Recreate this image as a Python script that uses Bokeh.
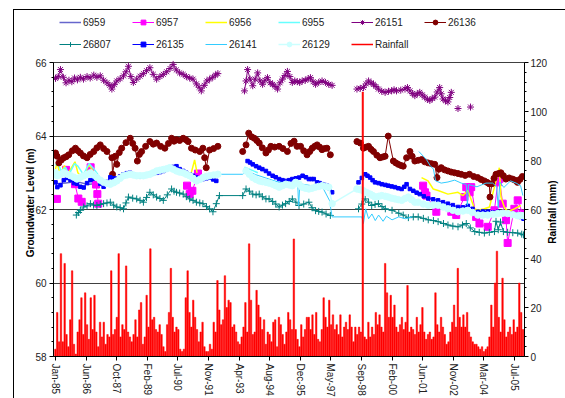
import numpy as np
from bokeh.plotting import figure
from bokeh.models import Range1d, LinearAxis, FixedTicker, Legend, LegendItem
from bokeh.embed import file_html
from bokeh.resources import INLINE

# ---------------- data ----------------
tick_labels = ["Jan-85", "Jun-86", "Oct-87", "Feb-89", "Jul-90", "Nov-91", "Apr-93", "Aug-94",
               "Dec-95", "May-97", "Sep-98", "Feb-00", "Jun-01", "Nov-02", "Mar-04", "Jul-05"]
tick_days = [0, 500, 1000, 1500, 2000, 2500, 3000, 3500, 4000, 4500, 5000, 5500, 6000, 6500, 7000, 7500]
AXIS_START = 1985.0466   # 18-Jan-1985 (decimal year), day 0 of the axis

# groundwater levels (decimal year, m); None = gap
s6959 = [(1985.05, 62.70), (1985.50, 62.72), (1986.00, 62.76), (1986.50, 62.68), (1987.00, 62.72)]

s6957 = [(1985.11, 62.29), None,
         (1985.52, 63.08), (1985.92, 62.69), (1986.07, 62.30), (1986.22, 62.21), None,
         (1986.62, 63.15), (1986.86, 62.68), (1986.92, 62.42), (1986.96, 62.16), None,
         (1990.93, 62.65), (1991.05, 62.42), (1991.17, 62.51), (1991.42, 62.98), None,
         (2001.49, 62.65), (2001.57, 62.47), (2001.64, 62.38), (2002.08, 61.94), None,
         (2002.75, 61.94), (2002.97, 61.85), (2003.34, 62.34), (2003.42, 62.61), (2003.57, 62.47),
         (2003.64, 62.61), (2003.86, 61.80), (2004.01, 61.62), (2004.38, 61.53), (2004.68, 61.98),
         (2004.83, 62.74), (2004.90, 62.83), (2005.05, 62.16), (2005.20, 61.71), (2005.27, 61.09),
         (2005.57, 62.02), (2005.72, 62.25), (2005.94, 61.89)]

s6956 = [(1985.05, 63.10), (1985.12, 63.28), (1985.25, 62.95), (1985.45, 63.20), (1985.55, 62.92),
         (1985.92, 63.30), (1986.05, 63.00), (1986.25, 62.85), (1986.55, 63.22), (1986.72, 63.05),
         (1986.85, 62.80), None,
         (1991.10, 62.95), (1991.27, 63.35), (1991.38, 63.00), None,
         (2001.42, 62.87), (2001.71, 62.78), (2001.94, 62.56), (2002.16, 62.52), (2002.60, 62.42),
         (2003.05, 62.47), (2003.27, 62.38), (2003.49, 62.52), (2003.79, 62.02), (2003.94, 61.98),
         (2004.23, 62.02), (2004.46, 62.07), (2004.60, 62.42), (2004.75, 62.78), (2004.90, 63.14),
         (2004.97, 62.34), (2005.12, 62.07), (2005.27, 61.94), (2005.57, 62.02), (2005.86, 62.11)]

s6955 = [(1985.05, 63.20), (1985.15, 63.28), (1985.30, 63.05), (1985.50, 63.15), (1985.65, 62.95),
         (1985.90, 63.25), (1986.05, 63.18), (1986.30, 62.95), (1986.55, 63.25), (1986.75, 63.12),
         (1986.95, 62.95), None,
         (1993.50, 63.15), (1993.80, 63.08), (1994.10, 63.00)]

s26151 = [(1985.05, 65.57), (1985.17, 65.62), (1985.27, 65.81), (1985.40, 65.60), (1985.52, 65.45),
          (1985.65, 65.52), (1985.78, 65.48), (1985.90, 65.58), (1986.03, 65.53), (1986.16, 65.60),
          (1986.30, 65.55), (1986.46, 65.62), (1986.60, 65.58), (1986.76, 65.66), (1986.90, 65.60),
          (1987.05, 65.64), (1987.20, 65.52), (1987.35, 65.45), (1987.48, 65.38), (1987.57, 65.28),
          (1987.68, 65.40), (1987.79, 65.50), (1987.94, 65.56), (1988.09, 65.64), (1988.20, 65.75),
          (1988.31, 65.90), (1988.42, 65.62), (1988.53, 65.46), (1988.68, 65.55), (1988.83, 65.63),
          (1988.98, 65.70), (1989.12, 65.78), (1989.27, 65.86), (1989.42, 65.68), (1989.57, 65.55),
          (1989.72, 65.62), (1989.87, 65.68), (1990.02, 65.75), (1990.17, 65.84), (1990.31, 65.95),
          (1990.45, 65.80), (1990.60, 65.72), (1990.76, 65.68), (1990.90, 65.62), (1991.05, 65.58),
          (1991.20, 65.55), (1991.35, 65.42), (1991.47, 65.33), (1991.57, 65.23), (1991.70, 65.38),
          (1991.82, 65.50), (1991.94, 65.55), (1992.08, 65.60), (1992.20, 65.66), (1992.31, 65.70), None,
          (1993.50, 65.23), (1993.57, 65.50), (1993.64, 65.81), (1993.75, 65.55), (1993.87, 65.37),
          (1993.98, 65.55), (1994.09, 65.72), (1994.20, 65.50), (1994.31, 65.41), (1994.42, 65.52),
          (1994.53, 65.59), (1994.65, 65.45), (1994.76, 65.41), (1994.87, 65.35), (1994.98, 65.28),
          (1995.09, 65.45), (1995.20, 65.55), (1995.31, 65.65), (1995.42, 65.76), (1995.53, 65.62),
          (1995.64, 65.46), (1995.75, 65.50), (1995.86, 65.48), (1995.97, 65.46), (1996.08, 65.50),
          (1996.22, 65.52), (1996.35, 65.56), (1996.45, 65.59), (1996.57, 65.48), (1996.68, 65.41),
          (1996.82, 65.46), (1996.97, 65.50), (1997.12, 65.46), (1997.27, 65.41), (1997.42, 65.38), None,
          (1998.53, 65.28), (1998.68, 65.30), (1998.82, 65.32), (1998.94, 65.42), (1999.05, 65.50),
          (1999.16, 65.45), (1999.27, 65.41), (1999.38, 65.35), (1999.49, 65.28), (1999.64, 65.22),
          (1999.79, 65.19), (1999.94, 65.22), (2000.08, 65.23), (2000.19, 65.26), (2000.30, 65.23),
          (2000.49, 65.25), (2000.68, 65.28), (2000.79, 65.32), (2000.90, 65.23), (2001.01, 65.16),
          (2001.12, 65.10), (2001.23, 65.15), (2001.34, 65.19), (2001.45, 65.12), (2001.56, 65.06),
          (2001.68, 65.00), (2001.79, 64.97), (2001.90, 65.02), (2002.01, 65.06), (2002.12, 65.20),
          (2002.23, 65.32), (2002.30, 65.15), (2002.38, 65.01), (2002.49, 64.96), (2002.60, 64.93),
          (2002.68, 65.05), (2002.75, 65.19), None,
          (2003.05, 64.75), None,
          (2003.61, 64.79)]

s26136 = [(1985.05, 63.54), (1985.12, 63.45), (1985.20, 63.27), (1985.31, 63.35), (1985.42, 63.41),
          (1985.53, 63.44), (1985.64, 63.49), (1985.80, 63.60), (1985.94, 63.67), (1986.05, 63.60),
          (1986.16, 63.54), (1986.30, 63.46), (1986.46, 63.41), (1986.60, 63.50), (1986.76, 63.58),
          (1986.90, 63.68), (1987.05, 63.76), (1987.20, 63.66), (1987.35, 63.58), (1987.57, 63.41),
          (1987.60, 62.96), (1987.72, 63.45), (1987.79, 63.23), (1987.90, 63.55), (1988.01, 63.67),
          (1988.20, 63.82), (1988.39, 63.94), (1988.50, 63.80), (1988.61, 63.67), (1988.71, 63.32),
          (1988.80, 63.50), (1988.90, 63.58), (1989.08, 63.72), (1989.27, 63.85), (1989.42, 63.78),
          (1989.57, 63.81), (1989.75, 63.72), (1989.94, 63.67), (1990.10, 63.80), (1990.24, 63.94),
          (1990.35, 63.86), (1990.46, 63.90), (1990.60, 63.88), (1990.76, 63.94), (1990.88, 63.90),
          (1990.98, 63.85), (1991.13, 63.67), (1991.30, 63.62), (1991.50, 63.58), (1991.64, 63.67),
          (1991.72, 63.41), (1991.79, 63.14), (1991.94, 63.62), (1992.12, 63.66), (1992.31, 63.72), None,
          (1993.42, 63.58), (1993.57, 63.76), (1993.69, 64.08), (1993.82, 63.98), (1993.94, 63.94),
          (1994.05, 63.88), (1994.16, 63.81), (1994.30, 63.68), (1994.46, 63.54), (1994.57, 63.62),
          (1994.68, 63.72), (1994.85, 63.70), (1995.05, 63.72), (1995.22, 63.66), (1995.42, 63.58),
          (1995.58, 63.80), (1995.72, 63.86), (1995.85, 63.72), (1996.01, 63.72), (1996.15, 63.60),
          (1996.30, 63.49), (1996.42, 63.58), (1996.53, 63.67), (1996.64, 63.72), (1996.75, 63.76),
          (1996.86, 63.70), (1996.97, 63.63), (1997.08, 63.66), (1997.19, 63.67), (1997.34, 63.49), None,
          (1998.53, 63.85), (1998.68, 63.81), (1998.82, 63.67), (1998.94, 63.70), (1999.05, 63.72),
          (1999.16, 63.64), (1999.27, 63.58), (1999.42, 63.48), (1999.56, 63.41), (1999.68, 63.43),
          (1999.79, 63.45), (1999.93, 64.00), (2000.16, 63.32), (2000.27, 63.27), (2000.38, 63.23),
          (2000.50, 63.20), (2000.60, 63.18), (2000.75, 63.41), (2000.90, 63.58), (2001.00, 63.45),
          (2001.12, 63.32), (2001.27, 63.34), (2001.42, 63.36), (2001.56, 63.30), (2001.71, 63.27),
          (2001.86, 63.25), (2002.01, 63.23), (2002.11, 62.87), (2002.20, 63.10), (2002.30, 63.14),
          (2002.45, 63.08), (2002.60, 63.05), (2002.75, 63.02), (2002.90, 63.00), (2003.05, 62.98),
          (2003.19, 62.96), (2003.37, 62.93), (2003.56, 62.96), (2003.75, 62.90), (2003.93, 62.87),
          (2004.08, 62.82), (2004.23, 62.78), (2004.35, 62.74), (2004.45, 62.70), (2004.48, 62.34),
          (2004.56, 62.70), (2004.66, 62.85), (2004.75, 62.96), (2004.86, 62.98), (2004.97, 63.00),
          (2005.08, 62.92), (2005.19, 62.83), (2005.34, 62.86), (2005.49, 62.83), (2005.60, 62.80),
          (2005.71, 62.74), (2005.82, 62.82), (2005.93, 62.90)]

s26807 = [(1985.98, 61.85), (1986.08, 61.92), (1986.16, 61.98), (1986.31, 62.07), (1986.46, 62.10),
          (1986.61, 62.16), (1986.75, 62.12), (1986.90, 62.11), (1987.05, 62.14), (1987.20, 62.16),
          (1987.35, 62.18), (1987.50, 62.20), (1987.65, 62.12), (1987.79, 62.07), (1987.94, 62.05),
          (1988.09, 62.02), (1988.20, 62.18), (1988.31, 62.34), (1988.50, 62.31), (1988.68, 62.29),
          (1988.83, 62.25), (1988.98, 62.20), (1989.12, 62.33), (1989.27, 62.47), (1989.42, 62.40),
          (1989.57, 62.34), (1989.72, 62.30), (1989.87, 62.25), (1990.05, 62.40), (1990.24, 62.56),
          (1990.35, 62.50), (1990.46, 62.47), (1990.60, 62.45), (1990.76, 62.42), (1990.90, 62.35),
          (1991.05, 62.29), (1991.20, 62.25), (1991.35, 62.20), (1991.50, 62.18), (1991.64, 62.16),
          (1991.80, 62.08), (1991.94, 62.02), (1992.09, 61.94), (1992.24, 62.16), (1992.38, 62.38),
          (1993.42, 62.38), (1993.57, 62.56), (1993.72, 62.50), (1993.87, 62.42), (1994.02, 62.40),
          (1994.16, 62.42), (1994.30, 62.35), (1994.46, 62.29), (1994.60, 62.29), (1994.76, 62.22),
          (1994.90, 62.15), (1995.05, 62.07), (1995.20, 62.12), (1995.34, 62.16), (1995.50, 62.22),
          (1995.64, 62.29), (1995.80, 62.20), (1995.94, 62.11), (1996.15, 62.15), (1996.38, 62.20),
          (1996.52, 62.05), (1996.68, 61.97), (1996.82, 61.95), (1996.97, 61.93), (1997.15, 61.88),
          (1997.34, 61.84), None,
          (1998.60, 62.02), (1998.75, 62.15), (1998.90, 62.29), (1999.05, 62.20), (1999.19, 62.11),
          (1999.34, 62.14), (1999.49, 62.16), (1999.65, 62.08), (1999.80, 62.02), (2000.10, 61.98),
          (2000.40, 61.90), (2000.60, 61.85), (2000.83, 61.78), (2001.05, 61.80), (2001.27, 61.80),
          (2001.50, 61.76), (2001.72, 61.72), (2001.95, 61.70), (2002.16, 61.67), (2002.40, 61.62),
          (2002.60, 61.58), (2002.82, 61.55), (2003.05, 61.53), (2003.25, 61.58), (2003.42, 61.62),
          (2003.60, 61.50), (2003.80, 61.40), (2004.00, 61.38), (2004.23, 61.36), (2004.45, 61.38),
          (2004.68, 61.40), (2004.75, 61.68), (2004.85, 61.45), (2004.95, 61.66), (2005.08, 61.40),
          (2005.27, 61.38), (2005.50, 61.37), (2005.72, 61.36), (2005.90, 61.33), (2005.98, 61.31)]

s26135 = [(1985.05, 62.74), (1985.13, 62.61), (1985.27, 62.66), (1985.42, 62.80), (1985.57, 62.86),
          (1985.72, 62.80), (1985.87, 62.72), (1986.01, 62.70), (1986.16, 62.62), (1986.31, 62.60),
          (1986.46, 62.72), (1986.61, 62.80), (1986.75, 62.84), (1986.90, 62.86), (1987.05, 62.70),
          (1987.20, 62.62), (1987.35, 62.75), (1987.50, 62.88), (1987.65, 62.85), (1987.79, 62.84),
          (1987.94, 62.90), (1988.09, 62.96), (1988.24, 62.99), (1988.38, 63.00), (1988.53, 62.96),
          (1988.68, 62.92), (1988.83, 62.90), (1988.98, 62.92), (1989.12, 62.95), (1989.27, 62.96),
          (1989.42, 62.98), (1989.57, 63.00), (1989.72, 63.02), (1989.87, 63.05), (1990.02, 63.10),
          (1990.16, 63.14), (1990.31, 63.16), (1990.46, 63.18), (1990.60, 63.10), (1990.76, 63.05),
          (1990.90, 63.00), (1991.05, 62.96), (1991.20, 62.92), (1991.35, 62.87), (1991.50, 62.85),
          (1991.64, 62.83), (1991.80, 62.85), (1991.94, 62.87), (1992.10, 62.82), (1992.24, 62.78), None,
          (1993.64, 63.32), (1993.75, 63.28), (1993.87, 63.23), (1994.02, 63.18), (1994.16, 63.14),
          (1994.30, 63.10), (1994.46, 63.05), (1994.60, 62.98), (1994.76, 62.92), (1994.90, 62.88),
          (1995.05, 62.83), (1995.20, 62.80), (1995.35, 62.78), (1995.50, 62.80), (1995.64, 62.83),
          (1995.80, 62.85), (1995.94, 62.87), (1996.10, 62.92), (1996.25, 62.88), (1996.38, 62.83),
          (1996.50, 62.83), (1996.60, 62.83), (1996.75, 62.74), (1996.86, 62.72), (1996.97, 62.69),
          (1997.08, 62.67), (1997.19, 62.65), (1997.30, 62.58), (1997.42, 62.47), None,
          (1998.60, 62.74), (1998.75, 62.86), (1998.90, 62.96), (1999.00, 62.92), (1999.12, 62.87),
          (1999.23, 62.80), (1999.34, 62.74), (1999.50, 62.72), (1999.64, 62.69), (1999.80, 62.67),
          (1999.93, 62.65), (2000.08, 62.63), (2000.23, 62.61), (2000.38, 62.58), (2000.53, 62.56),
          (2000.65, 62.62), (2000.75, 62.69), (2000.90, 62.56), (2001.05, 62.51), (2001.20, 62.46),
          (2001.34, 62.42), (2001.52, 62.36), (2001.72, 62.30), (2001.94, 62.28), (2002.16, 62.25),
          (2002.38, 62.20), (2002.60, 62.16), (2002.82, 62.12), (2003.05, 62.07), (2003.27, 62.06),
          (2003.49, 62.10), (2003.70, 62.02), (2003.94, 61.94), (2004.16, 61.95), (2004.38, 61.94),
          (2004.60, 61.92), (2004.83, 61.94), (2005.05, 61.92), (2005.27, 61.90), (2005.50, 61.88),
          (2005.72, 61.86), (2005.85, 61.80), (2005.98, 61.75)]

s26141 = [(1992.31, 62.96), (1993.42, 62.96), (1993.60, 63.05), (1994.00, 62.95), (1994.50, 62.85),
          (1995.00, 62.75), (1995.50, 62.72), (1995.88, 62.74), (1995.92, 62.10), (1995.98, 62.70),
          (1996.50, 62.65), (1997.00, 62.60), (1997.30, 62.25), (1997.42, 61.80), (1998.75, 61.80),
          (1998.82, 61.62), (1998.92, 62.02), (1999.05, 61.75), (1999.20, 61.88), (1999.35, 61.70),
          (1999.50, 61.85), (1999.70, 61.68), (1999.85, 61.82), (2000.10, 61.72), (2000.40, 61.80),
          (2000.70, 61.75), (2001.00, 61.80), None,
          (2001.30, 63.58), (2001.50, 63.45), (2001.65, 63.35), (2001.80, 63.20), (2001.95, 63.10),
          (2002.05, 62.78), (2002.30, 62.72), (2002.60, 62.75), (2002.90, 62.80), (2003.20, 62.72),
          (2003.42, 62.68), (2003.47, 62.12), (2003.52, 62.68), (2003.90, 62.62), (2004.30, 62.72),
          (2004.60, 62.72), (2004.78, 62.62), (2004.85, 62.05), (2004.92, 62.75), (2005.10, 62.60),
          (2005.40, 62.78), (2005.65, 62.72), (2005.85, 62.65), (2005.95, 62.38)]

s26129 = [(1985.05, 63.00), (1985.13, 62.92), (1985.27, 62.96), (1985.42, 63.00), (1985.57, 62.96),
          (1985.72, 62.92), (1985.87, 62.88), (1986.01, 62.83), (1986.16, 62.88), (1986.31, 62.92),
          (1986.46, 62.96), (1986.61, 63.00), (1986.75, 62.94), (1986.90, 62.87), (1987.05, 62.80),
          (1987.20, 62.74), (1987.35, 62.71), (1987.50, 62.69), (1987.65, 62.73), (1987.79, 62.78),
          (1987.94, 62.85), (1988.09, 62.92), (1988.24, 62.94), (1988.38, 62.96), (1988.53, 62.94),
          (1988.68, 62.92), (1988.83, 62.92), (1988.98, 62.92), (1989.12, 62.94), (1989.27, 62.96),
          (1989.42, 63.00), (1989.57, 63.05), (1989.72, 63.07), (1989.87, 63.09), (1990.02, 63.11),
          (1990.16, 63.14), (1990.31, 63.10), (1990.46, 63.05), (1990.60, 63.02), (1990.76, 63.00),
          (1990.90, 62.96), (1991.05, 62.92), (1991.20, 62.85), (1991.35, 62.78), (1991.50, 62.82),
          (1991.64, 62.87), (1991.80, 62.90), (1991.94, 62.92), (1992.12, 62.94), (1992.31, 62.96), None,
          (1993.57, 63.05), (1993.72, 62.96), (1993.87, 62.87), (1994.02, 62.82), (1994.16, 62.78),
          (1994.30, 62.76), (1994.46, 62.74), (1994.60, 62.72), (1994.76, 62.69), (1994.90, 62.65),
          (1995.05, 62.61), (1995.20, 62.65), (1995.35, 62.69), (1995.50, 62.67), (1995.64, 62.65),
          (1995.79, 62.74), (1995.94, 62.69), (1996.08, 62.61), (1996.23, 62.58), (1996.38, 62.56),
          (1996.52, 62.58), (1996.67, 62.61), (1996.82, 62.63), (1996.97, 62.65), (1997.12, 62.63),
          (1997.27, 62.61), (1997.42, 62.16), (1998.53, 62.56), (1998.68, 62.54), (1998.82, 62.51),
          (1998.97, 62.46), (1999.12, 62.42), (1999.23, 62.38), (1999.34, 62.34), (1999.50, 62.36),
          (1999.64, 62.38), (1999.80, 62.36), (1999.93, 62.34), (2000.08, 62.31), (2000.23, 62.29),
          (2000.38, 62.27), (2000.53, 62.25), (2000.68, 62.30), (2000.83, 62.34), (2000.97, 62.27),
          (2001.12, 62.20), (2001.27, 62.20), (2001.50, 62.15), (2001.72, 62.12), (2001.94, 62.12),
          (2002.16, 62.12), (2002.38, 62.07), (2002.60, 62.02), (2002.82, 61.98), (2003.05, 61.94),
          (2003.27, 61.96), (2003.49, 61.98), (2003.70, 61.92), (2003.94, 61.85), (2004.16, 61.85),
          (2004.38, 61.85), (2004.60, 61.87), (2004.83, 61.89), (2005.05, 61.90), (2005.27, 61.89),
          (2005.50, 61.86), (2005.72, 61.83), (2005.85, 61.84), (2005.98, 61.83)]

# monthly rainfall (mm), Jan-1985 ... Dec-2005
rain_first_year = 1985
rain_mm = [
    3, 18, 6, 42, 6, 38, 9, 4, 15, 35, 5, 1,        # 1985
    10, 15, 24, 9, 26, 13, 7, 24, 11, 25, 10, 4,    # 1986
    14, 8, 14, 5, 9, 8, 35, 9, 11, 16, 42, 8,       # 1987
    13, 11, 37, 10, 8, 6, 9, 15, 8, 19, 22, 5,      # 1988
    8, 25, 12, 44, 15, 16, 11, 10, 13, 9, 4, 2,     # 1989
    13, 18, 36, 16, 10, 12, 11, 3, 2, 3, 24, 35,    # 1990
    18, 12, 23, 16, 11, 6, 10, 14, 4, 2, 2, 5,      # 1991
    3, 14, 10, 31, 19, 13, 15, 33, 20, 23, 22, 12,  # 1992
    13, 10, 6, 5, 8, 12, 22, 10, 46, 23, 9, 10,     # 1993
    27, 21, 16, 11, 15, 5, 10, 9, 6, 14, 15, 4,     # 1994
    16, 13, 9, 5, 10, 18, 15, 11, 48, 11, 7, 4,     # 1995
    13, 8, 11, 16, 16, 11, 17, 9, 18, 7, 6, 11,     # 1996
    24, 16, 12, 23, 13, 17, 11, 13, 9, 17, 8, 12,   # 1997
    14, 11, 17, 12, 6, 12, 9, 12, 10, 108, 8, 7,    # 1998
    14, 8, 12, 9, 18, 13, 17, 12, 10, 38, 26, 16,   # 1999
    25, 16, 21, 12, 10, 13, 16, 11, 14, 29, 10, 12, # 2000
    11, 9, 16, 10, 13, 20, 10, 7, 9, 10, 7, 8,      # 2001
    26, 13, 10, 16, 12, 9, 5, 6, 10, 14, 21, 12,    # 2002
    36, 16, 12, 17, 12, 18, 10, 8, 6, 5, 5, 4,      # 2003
    3, 4, 2, 3, 4, 8, 21, 12, 30, 43, 16, 10,       # 2004
    32, 15, 8, 10, 12, 9, 15, 10, 12, 30, 18, 11,   # 2005
]

gw_title = "Groundwater Level (m)"
rain_title = "Rainfall (mm)"


def to_xy(pairs):
    xs, ys = [], []
    for pr in pairs:
        if pr is None:
            xs.append(np.nan)
            ys.append(np.nan)
        else:
            xs.append((pr[0] - AXIS_START) * 365.25)
            ys.append(pr[1])
    return np.array(xs, dtype=float), np.array(ys, dtype=float)


FONT = "Liberation Sans"

# Plot frame reaches the top of the figure so the legend (inside the frame) is not clipped;
# the axes are bounded to the real value ranges (58-66 m, 0-120 mm).
FRAME_PX = 352            # frame height in px
DATA_PX = 299             # px between 58 and 66
GW_TOP = 58 + 8 * FRAME_PX / DATA_PX
RAIN_TOP = 120 * FRAME_PX / DATA_PX

p = figure(width=552, height=389, output_backend="svg", toolbar_location=None,
           x_range=Range1d(-32, 7662), y_range=Range1d(58, GW_TOP),
           min_border_left=39, min_border_right=39, min_border_top=0, min_border_bottom=37,
           background_fill_color="white", border_fill_color="white")
p.margin = (9, 0, 0, 13)
p.styles = {"border-top": "1px solid black", "border-left": "1px solid black"}
p.outline_line_color = None
p.extra_y_ranges = {"rain": Range1d(0, RAIN_TOP)}

# grid
p.xgrid.visible = False
p.ygrid.ticker = FixedTicker(ticks=[58, 60, 62, 64, 66])
p.ygrid.grid_line_color = "#404040"
p.ygrid.grid_line_width = 1

# left axis
ya = p.yaxis[0]
ya.bounds = (58, 66)
ya.ticker = FixedTicker(ticks=[58, 60, 62, 64, 66], minor_ticks=list(np.round(np.arange(58, 66.001, 0.4), 2)))
ya.major_label_text_font = FONT
ya.major_label_text_font_size = "10px"
ya.major_label_text_color = "#222222"
ya.major_label_standoff = 3
ya.major_tick_in = 0
ya.major_tick_out = 4
ya.minor_tick_in = 0
ya.minor_tick_out = 2
ya.axis_line_color = "black"
ya.major_tick_line_color = "black"
ya.minor_tick_line_color = "black"

# right axis
ra = LinearAxis(y_range_name="rain", bounds=(0, 120),
                ticker=FixedTicker(ticks=[0, 20, 40, 60, 80, 100, 120], minor_ticks=list(range(0, 121, 4))))
ra.major_label_text_font = FONT
ra.major_label_text_font_size = "10px"
ra.major_label_text_color = "#222222"
ra.major_label_standoff = 2
ra.major_tick_in = 0
ra.major_tick_out = 4
ra.minor_tick_in = 0
ra.minor_tick_out = 2
ra.axis_line_color = "black"
p.add_layout(ra, "right")


def title_axis(text, at):
    # an outer axis without line/ticks whose single label is the (upward reading) axis title
    ax = LinearAxis(y_range_name="rain", ticker=FixedTicker(ticks=[at], minor_ticks=[]),
                    major_label_overrides={at: text}, major_label_orientation=np.pi / 2)
    ax.axis_line_color = None
    ax.major_tick_line_color = None
    ax.minor_tick_line_color = None
    ax.major_tick_in = 0
    ax.major_tick_out = 0
    ax.major_label_standoff = 2
    ax.major_label_text_font = FONT
    ax.major_label_text_font_size = "10px"
    ax.major_label_text_font_style = "bold"
    ax.major_label_text_color = "black"
    return ax


# anchor points chosen so each title is centred like the reference
p.add_layout(title_axis(gw_title, 85), "left")
p.add_layout(title_axis(rain_title, 46), "right")

# x axis
xa = p.xaxis[0]
xa.ticker = FixedTicker(ticks=tick_days, minor_ticks=[])
xa.major_label_overrides = {d: lab for d, lab in zip(tick_days, tick_labels)}
xa.major_label_orientation = "vertical"
xa.major_label_text_font = FONT
xa.major_label_text_font_size = "10px"
xa.major_label_text_color = "#222222"
xa.major_tick_in = 0
xa.major_tick_out = 4
xa.axis_line_color = "black"
xa.major_label_standoff = 3

series = [
    ("6959", s6959, "#6666CC", 1.5, None, 0, None),
    ("6957", s6957, "#FF00FF", 1, "square", 7, "#FF00FF"),
    ("6956", s6956, "#FFFF00", 1.5, None, 0, None),
    ("6955", s6955, "#66FFFF", 1.5, None, 0, None),
    ("26151", s26151, "#800080", 1, "asterisk", 7, None),
    ("26136", s26136, "#800000", 1, "circle", 6, "#800000"),
    ("26807", s26807, "#008080", 1, "cross", 7, None),
    ("26135", s26135, "#0000FF", 1, "square", 3.5, "#0000FF"),
    ("26141", s26141, "#33CCFF", 1, None, 0, None),
    ("26129", s26129, "#CCFFFF", 1.5, "circle", 6.5, "#CCFFFF"),
]

items = []
for name, data, col, lw, marker, msize, fill in series:
    xs, ys = to_xy(data)
    rs = [p.line(xs, ys, line_color=col, line_width=lw)]
    if marker is not None:
        rs.append(p.scatter(xs, ys, marker=marker, size=msize, line_color=col,
                            fill_color=fill if fill else col, line_width=1))
    items.append(LegendItem(label=name, renderers=rs))

# rainfall bars (secondary axis)
rain_x = []
for i in range(len(rain_mm)):
    yr = rain_first_year + i // 12
    m = i % 12
    rain_x.append((yr + (m + 0.5) / 12.0 - AXIS_START) * 365.25)
p.vbar(x=rain_x, top=rain_mm, bottom=0, width=24, y_range_name="rain",
       fill_color="#FF0000", line_color="#FF0000", line_width=0.5)
rain_leg = p.line([np.nan, np.nan], [np.nan, np.nan], line_color="#FF0000", line_width=1.5, y_range_name="rain")
items.append(LegendItem(label="Rainfall", renderers=[rain_leg]))

legend = Legend(items=items, location=(6, 302), orientation="horizontal", ncols=6,
                label_text_font=FONT, label_text_font_size="10px", label_text_color="#222222",
                glyph_width=22, glyph_height=12, label_height=20, label_width=47, label_standoff=2,
                spacing=2, padding=0, margin=0, border_line_color=None, background_fill_alpha=0)
p.add_layout(legend)

open("out.html", "w").write(file_html(p, INLINE))
